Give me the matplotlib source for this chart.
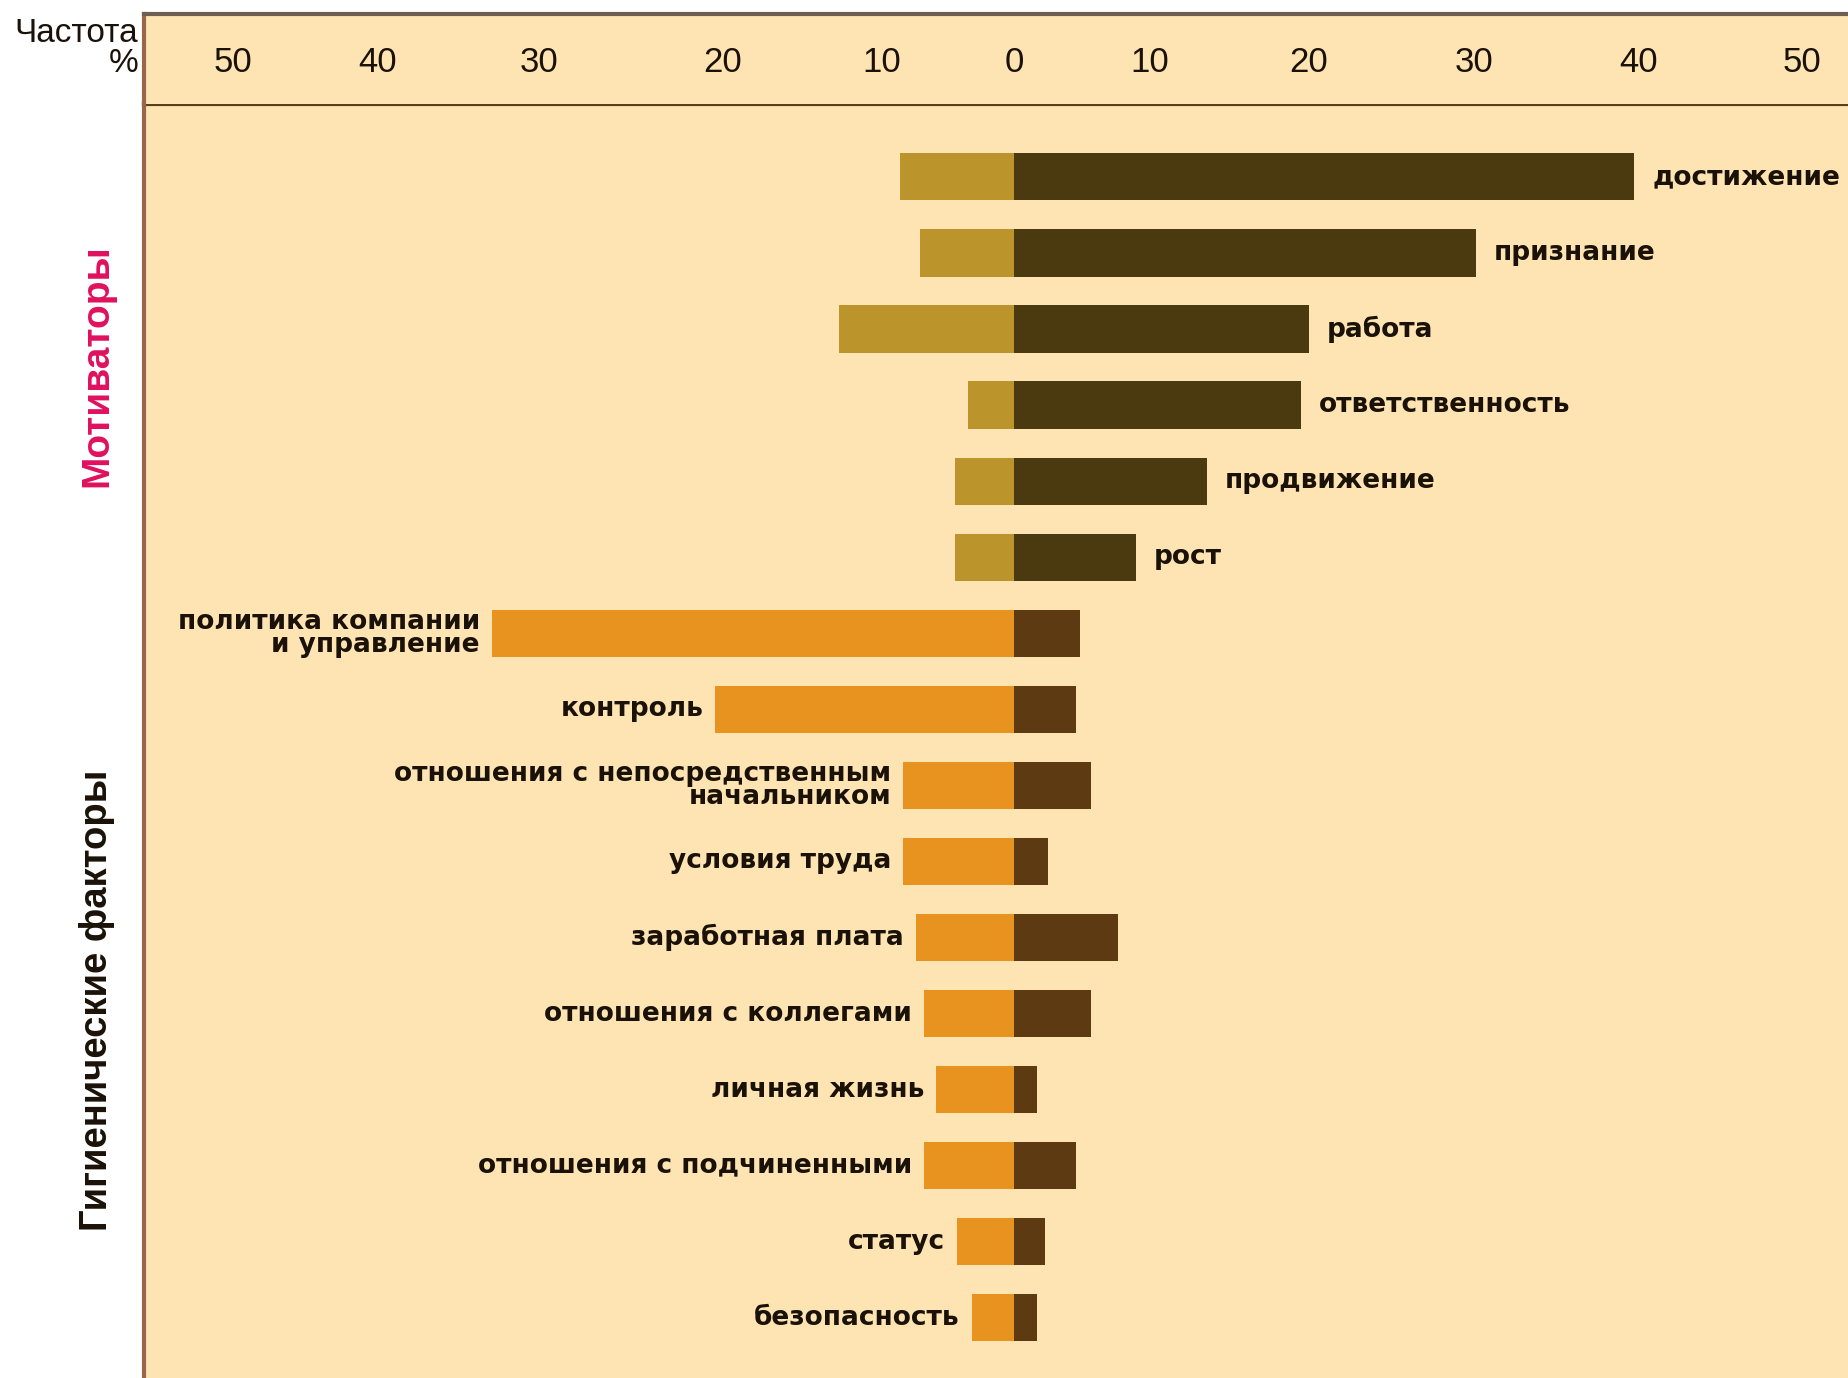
import numpy as np
import matplotlib
matplotlib.use("Agg")
import matplotlib.pyplot as plt

# --- data (percent of mentions) ---
motivators = ["достижение", "признание", "работа", "ответственность",
              "продвижение", "рост"]
mot_neg = [8.6, 7.1, 12.7, 3.5, 4.5, 4.5]      # light bars, left side
mot_pos = [39.7, 30.1, 20.0, 19.5, 13.6, 9.0]  # dark bars, right side

hygiene = ["политика компании\nи управление", "контроль",
           "отношения с непосредственным\nначальником", "условия труда",
           "заработная плата", "отношения с коллегами", "личная жизнь",
           "отношения с подчиненными", "статус", "безопасность"]
hyg_neg = [32.9, 20.4, 8.4, 8.4, 7.4, 6.8, 5.9, 6.8, 4.3, 3.2]
hyg_pos = [4.9, 4.6, 5.7, 2.5, 7.7, 5.7, 1.7, 4.6, 2.3, 1.7]

tick_vals = [-50, -40, -30, -20, -10, 0, 10, 20, 30, 40, 50]
tick_text = ["50", "40", "30", "20", "10", "0", "10", "20", "30", "40", "50"]

# the printed axis is not evenly spaced, so use a piecewise scale
scale_vals = [-60, -50, -40, -30, -20, -10, 0, 10, 20, 30, 40, 50, 60]
scale_pos = [76, 198, 320, 457, 613, 748, 860, 975, 1110, 1250, 1390, 1528, 1666]


def fwd(x):
    return np.interp(x, scale_vals, scale_pos)


def inv(p):
    return np.interp(p, scale_pos, scale_vals)


bg = "#fee4b2"
c_mot_light = "#bb952c"
c_mot_dark = "#4b3a10"
c_hyg_light = "#e8921f"
c_hyg_dark = "#5d3a12"
txt = "#1a1208"
edge = "#96674a"
narrow = ["Liberation Sans Narrow", "Liberation Sans", "DejaVu Sans"]

W, H = 1849, 1378
fig = plt.figure(figsize=(W / 100, H / 100), dpi=100, facecolor="white")

left = 144 / W
ax = fig.add_axes([left, 0, 1 - left, 1 - 104 / H], facecolor=bg)
hdr = fig.add_axes([left, 1 - 104 / H, 1 - left, 90 / H], facecolor=bg, sharex=ax)

ax.set_xscale("function", functions=(fwd, inv))
ax.set_xlim(-56.2, 52.9)

bar_font = "DejaVu Sans"
h = 0.62

y_mot = np.arange(len(motivators))
ax.barh(y_mot, [-v for v in mot_neg], height=h, color=c_mot_light)
ax.barh(y_mot, mot_pos, height=h, color=c_mot_dark)
for y, v, lab in zip(y_mot, mot_pos, motivators):
    ax.annotate(lab, (v, y), xytext=(18, 0), textcoords="offset pixels",
                ha="left", va="center", fontsize=19, fontweight="bold",
                color=txt, family=bar_font)

y_hyg = np.arange(len(hygiene)) + len(motivators)
ax.barh(y_hyg, [-v for v in hyg_neg], height=h, color=c_hyg_light)
ax.barh(y_hyg, hyg_pos, height=h, color=c_hyg_dark)
for y, v, lab in zip(y_hyg, hyg_neg, hygiene):
    ax.annotate(lab, (-v, y), xytext=(-12, 0), textcoords="offset pixels",
                ha="right", va="center", fontsize=19, fontweight="bold",
                color=txt, family=bar_font, multialignment="right",
                linespacing=0.85)

n = len(motivators) + len(hygiene)
ax.set_ylim(n - 1 + 0.79, -0.958)
ax.set_yticks([])
ax.tick_params(axis="x", bottom=False, labelbottom=False)
for s in ["right", "bottom"]:
    ax.spines[s].set_visible(False)
ax.spines["top"].set_color("#5a3d1e")
ax.spines["top"].set_linewidth(3)
ax.spines["left"].set_color(edge)
ax.spines["left"].set_linewidth(3)

# header band with the scale
hdr.set_yticks([])
hdr.set_xticks([])
hdr.tick_params(axis="x", bottom=False, labelbottom=False)
for v, s in zip(tick_vals, tick_text):
    hdr.text(v, 0.46, s, transform=hdr.get_xaxis_transform(), ha="center",
             va="center", fontsize=25, color=txt, family=narrow)
for s in ["right", "bottom"]:
    hdr.spines[s].set_visible(False)
hdr.spines["top"].set_color("#6e5e50")
hdr.spines["top"].set_linewidth(3)
hdr.spines["left"].set_color(edge)
hdr.spines["left"].set_linewidth(3)

fig.text(138 / W, 1 - 33 / H, "Частота", ha="right", va="center",
         fontsize=24, family=narrow, color=txt)
fig.text(139 / W, 1 - 63 / H, "%", ha="right", va="center",
         fontsize=24, family=narrow, color=txt)

fig.text(97 / W, 1 - 366 / H, "Мотиваторы", rotation=90, ha="center",
         va="center", fontsize=28, fontweight="bold", color="#e0115f",
         family=narrow)
fig.text(97 / W, 1 - 1000 / H, "Гигиенические факторы", rotation=90,
         ha="center", va="center", fontsize=27.5, fontweight="bold", color=txt,
         family=narrow)

fig.savefig("out.png", dpi=100, facecolor="white")
